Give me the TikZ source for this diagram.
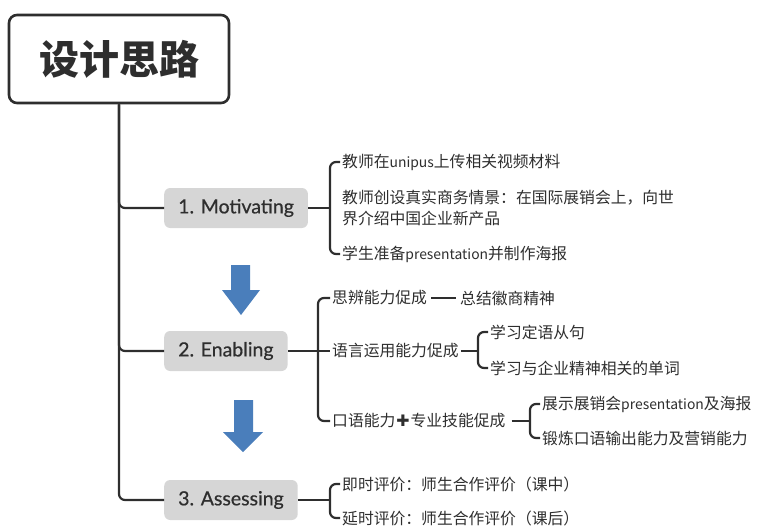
\documentclass[tikz,border=0pt]{standalone}
\usepackage{fontspec}
\setmainfont{Noto Sans CJK SC}
\newfontfamily\boxfont[FakeBold=0.6]{Lato}
\newfontfamily\latpart[Scale=0.88]{Noto Sans CJK SC}
\newfontfamily\plusfont[Scale=1.0]{DejaVu Sans}
\newcommand{\lat}[1]{{\latpart #1}}
\newcommand{\heavyplus}{\hspace{1pt}{\plusfont ✚}\hspace{1pt}}
\definecolor{linec}{HTML}{2E2E2E}
\definecolor{textc}{HTML}{2E2E2E}
\definecolor{boxc}{HTML}{D6D6D6}
\definecolor{arrowc}{RGB}{74,126,187}
\tikzset{
  conn/.style={draw=linec, line width=2.2pt, rounded corners=6pt},
  rootbox/.style={draw=linec, line width=2.6pt, rounded corners=8pt, fill=white,
    minimum width=220pt, minimum height=88pt, text=textc,
    font=\fontsize{40}{48}\selectfont\bfseries},
  stage/.style={fill=boxc, rounded corners=6pt, minimum height=40pt, inner xsep=14pt,
    anchor=west, text=textc, font=\boxfont\fontsize{19.5}{23}\selectfont},
  leaf/.style={anchor=west, inner sep=2pt, text=textc, align=left,
    font=\fontsize{15.8}{21}\selectfont},
  bluearrow/.style={fill=arrowc, draw=none}
}
\begin{document}
\begin{tikzpicture}[x=1pt,y=-1pt]
\useasboundingbox (0,0) rectangle (759,527);
% root
\node[rootbox] (root) at (119,59) {设计思路};
% stages
\node[stage] (mot) at (164,208) {1. Motivating};
\node[stage] (ena) at (164,351) {2. Enabling};
\node[stage] (ass) at (164,500) {3. Assessing};
\draw[conn] (root.south) |- (mot.west);
\draw[conn] (root.south) |- (ena.west);
\draw[conn] (root.south) |- (ass.west);
% motivating leaves
\node[leaf] (m1) at (340,162) {教师在\lat{unipus}上传相关视频材料};
\node[leaf] (m2) at (340,208) {教师创设真实商务情景：在国际展销会上，向世\\界介绍中国企业新产品};
\node[leaf] (m3) at (340,254) {学生准备\lat{presentation}并制作海报};
\coordinate (mb) at (330,208);
\draw[conn] (m1.west) -| (mb) |- (m3.west);
\draw[conn] (mot.east) -- (mb);
% enabling leaves
\node[leaf] (e1) at (330,298) {思辨能力促成};
\node[leaf] (e1a) at (458,298) {总结徽商精神};
\node[leaf] (e2) at (330,351) {语言运用能力促成};
\node[leaf] (e21) at (488,332) {学习定语从句};
\node[leaf] (e22) at (488,368) {学习与企业精神相关的单词};
\node[leaf] (e3) at (330,421) {口语能力\heavyplus 专业技能促成};
\node[leaf] (e31) at (540,404) {展示展销会\lat{presentation}及海报};
\node[leaf] (e32) at (540,438) {锻炼口语输出能力及营销能力};
\coordinate (eb) at (318,351);
\coordinate (e2b) at (478,351);
\coordinate (e3b) at (530,421);
\draw[conn] (e1.west) -| (eb) |- (e3.west);
\draw[conn] (ena.east) -- (e2.west);
\draw[conn, line width=2.6pt, shorten <=2pt, shorten >=2pt] (e1.east) -- (e1a.west);
\draw[conn] (e21.west) -| (e2b) |- (e22.west);
\draw[conn] (e2.east) -- (e2b);
\draw[conn] (e31.west) -| (e3b) |- (e32.west);
\draw[conn, shorten <=4pt] (e3.east) -- (e3b);
% assessing leaves
\node[leaf] (a1) at (340,484) {即时评价：师生合作评价（课中）};
\node[leaf] (a2) at (340,518) {延时评价：师生合作评价（课后）};
\coordinate (ab) at (330,500);
\draw[conn] (a1.west) -| (ab) |- (a2.west);
\draw[conn] (ass.east) -- (ab);
% blue arrows
\fill[bluearrow] (231,265) -- (250,265) -- (250,290) -- (260,290) -- (241,315) -- (222,290) -- (231,290) -- cycle;
\fill[bluearrow] (234,400) -- (253,400) -- (253,432) -- (263,432) -- (243,452) -- (223,432) -- (234,432) -- cycle;
\end{tikzpicture}
\end{document}
